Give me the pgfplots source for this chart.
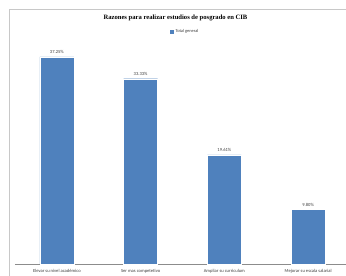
\documentclass[border=0pt]{standalone}
\usepackage{pgfplots}
\pgfplotsset{compat=1.18}
\usepackage{fontspec}
\setmainfont{Carlito}
\newfontfamily\titlefont{Liberation Serif}
\definecolor{barblue}{HTML}{4F81BD}
\definecolor{framegray}{HTML}{C8C8C8}
\definecolor{axisgray}{HTML}{8C8C8C}
\begin{document}
\begin{tikzpicture}[x=1pt,y=1pt]
\useasboundingbox (0,0) rectangle (346,276);
\fill[white] (0,0) rectangle (346,276);
\draw[framegray, line width=0.6pt] (9,-5) -- (9,267) -- (360,267);
\node[font=\titlefont\bfseries\fontsize{6.6}{7}\selectfont] at (175.5,258) {Razones para realizar estudios de posgrado en CIB};
\begin{axis}[
  at={(15pt,12pt)}, anchor=south west,
  scale only axis, width=335pt, height=222.4pt,
  ymin=0, ymax=40, xmin=-0.5, xmax=3.5,
  axis x line*=bottom, axis y line=none,
  x axis line style={axisgray, line width=0.5pt, -},
  xtick={0,1,2,3},
  xticklabels={Elevar su nivel académico, Ser mas competetivo, Ampliar su curriculum, Mejorar su escala salarial},
  xtick style={draw=none},
  xticklabel style={font=\fontsize{4.6}{5}\selectfont, text=black!75, yshift=-1.5pt},
  ytick=\empty,
  clip=false,
  /pgf/number format/assume math mode=true,
  legend style={at={(155pt,232pt)}, anchor=west, draw=none, fill=none, font=\fontsize{4.4}{5}\selectfont, text=black!75, inner sep=0pt, /tikz/every even column/.append style={column sep=2pt}},
  legend image code/.code={\fill[barblue] (0pt,-1.5pt) rectangle (3pt,1.5pt);},
  nodes near coords={\pgfmathprintnumber[fixed, fixed zerofill, precision=2, assume math mode=true]{\pgfplotspointmeta}\%},
  nodes near coords style={font=\fontsize{4.6}{5}\selectfont, text=black!75, yshift=-0.5pt},
]
\addplot[ybar, bar width=34pt, fill=barblue, draw=white, line width=0.3pt] coordinates {(0,37.25) (1,33.33) (2,19.61) (3,9.80)};
\addlegendentry{Total general}
\end{axis}
\end{tikzpicture}
\end{document}
